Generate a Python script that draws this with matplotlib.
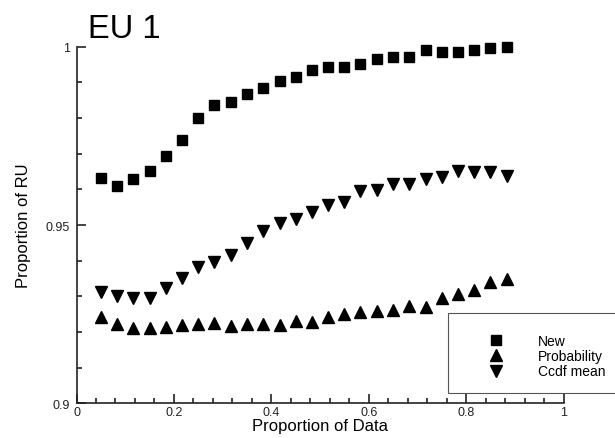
import matplotlib
matplotlib.use('Agg')
import matplotlib.pyplot as plt
from matplotlib.ticker import MultipleLocator
from matplotlib.patches import Rectangle

plt.rcParams['font.family'] = ['Liberation Sans', 'DejaVu Sans']

# proportion of data used
prop_data = [0.050, 0.083, 0.117, 0.150, 0.183, 0.217, 0.250, 0.283, 0.317, 0.350,
             0.383, 0.417, 0.450, 0.483, 0.517, 0.550, 0.583, 0.617, 0.650, 0.683,
             0.717, 0.750, 0.783, 0.817, 0.850, 0.883]

new_ru = [0.9631, 0.9609, 0.9629, 0.9651, 0.9694, 0.9738, 0.9800, 0.9836, 0.9844, 0.9866,
          0.9883, 0.9903, 0.9916, 0.9935, 0.9944, 0.9942, 0.9951, 0.9966, 0.9972, 0.9972,
          0.9991, 0.9986, 0.9986, 0.9992, 0.9996, 0.9998]

prob_ru = [0.9241, 0.9222, 0.9211, 0.9210, 0.9213, 0.9220, 0.9222, 0.9224, 0.9218, 0.9222,
           0.9222, 0.9220, 0.9232, 0.9229, 0.9241, 0.9250, 0.9257, 0.9260, 0.9262, 0.9274,
           0.9269, 0.9294, 0.9306, 0.9319, 0.9339, 0.9349]

ccdf_ru = [0.9313, 0.9302, 0.9296, 0.9294, 0.9322, 0.9351, 0.9381, 0.9397, 0.9416, 0.9449,
           0.9484, 0.9506, 0.9517, 0.9537, 0.9556, 0.9565, 0.9594, 0.9599, 0.9614, 0.9614,
           0.9629, 0.9635, 0.9652, 0.9648, 0.9648, 0.9637]

x_ticks = [0, 0.2, 0.4, 0.6, 0.8, 1]
x_ticklabels = ['0', '0.2', '0.4', '0.6', '0.8', '1']
y_ticks = [0.9, 0.95, 1]
y_ticklabels = ['0.9', '0.95', '1']

fig = plt.figure(figsize=(6.15, 4.39), dpi=100)
ax = fig.add_axes([76.5 / 615, 1 - 404.3 / 439, 487 / 615, (404.3 - 47.7) / 439])

ax.plot(prop_data, new_ru, 's', color='black', markersize=7.5, label='New', clip_on=False)
ax.plot(prop_data, prob_ru, '^', color='black', markersize=8.5, label='Probability', clip_on=False)
ax.plot(prop_data, ccdf_ru, 'v', color='black', markersize=8.5, label='Ccdf mean', clip_on=False)

ax.set_xlim(0, 1)
ax.set_ylim(0.9, 1)
ax.set_xticks(x_ticks)
ax.set_xticklabels(x_ticklabels)
ax.set_yticks(y_ticks)
ax.set_yticklabels(y_ticklabels)
ax.xaxis.set_minor_locator(MultipleLocator(0.04))
ax.yaxis.set_minor_locator(MultipleLocator(0.01))

for side in ['top', 'right']:
    ax.spines[side].set_visible(False)
for side in ['left', 'bottom']:
    ax.spines[side].set_linewidth(1.2)
    ax.spines[side].set_color('#222222')

ax.tick_params(which='both', direction='in', width=1.2, color='#222222',
               labelsize=9, labelcolor='#222222')
ax.tick_params(which='major', length=6.5)
ax.tick_params(which='minor', length=3.5)
ax.tick_params(axis='x', which='major', pad=2)
ax.tick_params(axis='y', which='major', pad=4.5)

ax.set_xlabel('Proportion of Data', fontsize=12, labelpad=0)
ax.set_ylabel('Proportion of RU', fontsize=12)
ax.yaxis.set_label_coords(-0.094, 0.5)

fig.text(0.143, 1 - 38 / 439, 'EU 1', fontsize=23.5, va='baseline', ha='left')

# legend box runs off the right edge of the figure
fig.patches.append(Rectangle((448 / 615, 1 - 394 / 439), 0.4, 80 / 439,
                             transform=fig.transFigure, facecolor='white',
                             edgecolor='#555555', linewidth=0.8, zorder=3))
leg = fig.legend(loc='center left', bbox_to_anchor=(482 / 615, 1 - 357 / 439),
                 frameon=False, fontsize=10, handlelength=2, handletextpad=2.0,
                 labelspacing=0.1, borderpad=0, borderaxespad=0)
leg.set_zorder(4)

fig.savefig('out.png', dpi=100)
